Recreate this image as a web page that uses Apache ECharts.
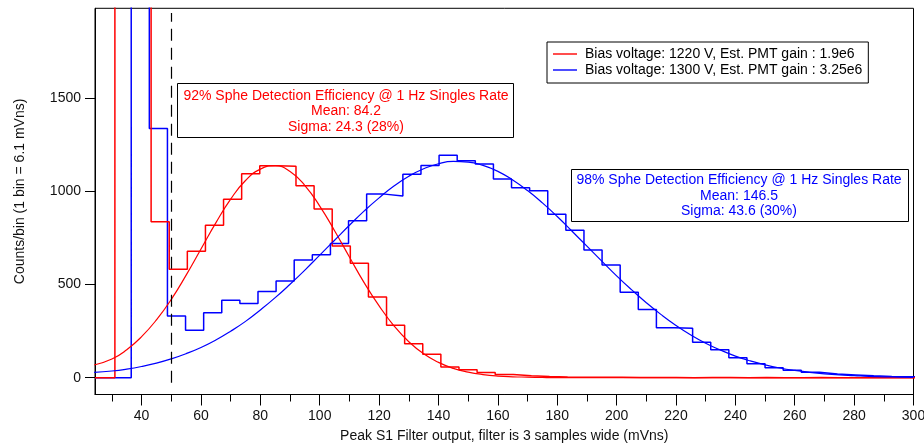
<!DOCTYPE html>
<html>
<head>
<meta charset="utf-8">
<script src="https://cdn.jsdelivr.net/npm/echarts@6/dist/echarts.min.js"></script>
<style>
html,body{margin:0;padding:0;background:#fff;}
#chart{width:924px;height:447px;}
</style>
</head>
<body>
<div id="chart"></div>
<script>
// ---------------- data ----------------
const redName = 'Bias voltage: 1220 V, Est. PMT gain : 1.9e6';
const blueName = 'Bias voltage: 1300 V, Est. PMT gain : 3.25e6';

const binWidth = 6.1;          // mVns per bin
const redBinStart = 31.0;      // left edge of first red bin
const blueBinStart = 30.4;     // left edge of first blue bin

// counts per bin (first bins run off the top of the plot)
const redCounts = [3000, 3000, 836, 581, 678, 817, 956, 1093, 1136, 1134,
  1029, 904, 706, 613, 432, 281, 182, 126, 57, 42,
  28, 17, 10, 6, 4, 3, 2, 2, 1, 1,
  1, 0, 1, 1, 0, 1, 0, 0, 1, 0,
  0, 1, 0, 0, 0];
const blueCounts = [0, 3000, 1336, 331, 254, 348, 415, 398, 462, 518,
  631, 659, 720, 841, 984, 974, 1090, 1138, 1192, 1163,
  1145, 1065, 1018, 1002, 876, 790, 684, 604, 458, 366,
  268, 265, 190, 150, 107, 75, 54, 40, 29, 20,
  15, 10, 7, 5, 4];

// Gaussian fit curves
const fitX = [24, 30, 35, 40, 45, 50, 55, 60, 65, 70, 75, 80, 85, 90, 95, 100,
  105, 110, 115, 120, 125, 130, 135, 140, 145, 150, 155, 160, 165, 170, 175, 180,
  185, 190, 195, 200, 205, 210, 215, 220, 225, 230, 235, 240, 245, 250, 255, 260,
  265, 270, 275, 280, 285, 290, 295, 300];
const redFit = [68, 100, 150, 220, 310, 420, 550, 690, 830, 957, 1057, 1118, 1136, 1105, 1030, 920,
  788, 647, 508, 385, 278, 193, 128, 82, 50, 30, 17, 9, 5, 3, 1, 0,
  0, 0, 0, 0, 0, 0, 0, 0, 0, 0, 0, 0, 0, 0, 0, 0,
  0, 0, 0, 0, 0, 0, 0, 0];
const blueFit = [29, 36, 46, 60, 78, 101, 129, 162, 202, 249, 302, 363, 429, 501, 577, 657,
  737, 817, 894, 964, 1027, 1080, 1120, 1147, 1159, 1156, 1138, 1106, 1060, 1003, 937, 864,
  785, 705, 625, 546, 472, 402, 338, 280, 229, 185, 148, 116, 90, 69, 52, 39,
  29, 21, 15, 11, 7, 5, 3, 2];

const xMajorTicks = [40, 60, 80, 100, 120, 140, 160, 180, 200, 220, 240, 260, 280, 300];
const xMinorTicks = [30, 50, 70, 90, 110, 130, 150, 170, 190, 210, 230, 250, 270, 290];
const yTicks = [0, 500, 1000, 1500];

const thresholdX = 50;
const thresholdSpan = [-27, 1955];

const redBoxText = ['92% Sphe Detection Efficiency @ 1 Hz Singles Rate', 'Mean: 84.2', 'Sigma: 24.3 (28%)'];
const blueBoxText = ['98% Sphe Detection Efficiency @ 1 Hz Singles Rate', 'Mean: 146.5', 'Sigma: 43.6 (30%)'];

// ---------------- chart ----------------
const xMin = 24.3, xMax = 300, yMin = -90, yMax = 1980;
const FONT = "'Liberation Sans', Arial, Helvetica, sans-serif";
const RED = '#ff0000', BLUE = '#0000ff';

function stepData(start, counts) {
  const pts = [[xMin, 0]];
  counts.forEach((c, k) => pts.push([start + k * binWidth, c]));
  pts.push([start + counts.length * binWidth, counts[counts.length - 1]]);
  return pts;
}
function pairs(xs, ys) { return xs.map((x, i) => [x, ys[i]]); }

const chart = echarts.init(document.getElementById('chart'), null, {renderer: 'canvas'});
chart.setOption({
  animation: false,
  backgroundColor: '#fff',
  textStyle: {fontFamily: FONT},
  grid: {
    left: 95, right: 10.5, top: 8.3, bottom: 52.5,
    containLabel: false, outerBoundsMode: 'none',
    show: true, borderColor: '#000', borderWidth: 1
  },
  legend: {
    data: [redName, blueName],
    orient: 'vertical', left: 547, top: 42,
    icon: 'rect', itemWidth: 24, itemHeight: 1.4, itemGap: 2,
    padding: [5, 6, 6, 6],
    borderColor: '#000', borderWidth: 1, backgroundColor: '#fff',
    selectedMode: false,
    textStyle: {fontFamily: FONT, fontSize: 14, color: '#000', lineHeight: 14, padding: [0, 0, 0, 3]}
  },
  xAxis: [{
    type: 'value', min: xMin, max: xMax, position: 'bottom',
    name: 'Peak S1 Filter output, filter is 3 samples wide (mVns)',
    nameLocation: 'middle', nameGap: 35,
    nameTextStyle: {fontFamily: FONT, fontSize: 14, color: '#111'},
    axisLine: {onZero: false, lineStyle: {color: '#000', width: 1}},
    axisTick: {customValues: xMajorTicks, length: 11, lineStyle: {color: '#000'}},
    axisLabel: {customValues: xMajorTicks, margin: 15, fontFamily: FONT, fontSize: 14, color: '#111',
      formatter: v => String(v)},
    splitLine: {show: false}
  }, {
    type: 'value', min: xMin, max: xMax, position: 'bottom', offset: 0,
    axisLine: {show: false, onZero: false},
    axisTick: {customValues: xMinorTicks, length: 7, lineStyle: {color: '#000'}},
    axisLabel: {show: false},
    splitLine: {show: false}
  }],
  yAxis: {
    type: 'value', min: yMin, max: yMax,
    name: 'Counts/bin (1 bin = 6.1 mVns)',
    nameLocation: 'middle', nameGap: 68, nameRotate: 90,
    nameTextStyle: {fontFamily: FONT, fontSize: 14, color: '#111', padding: [0, 0, 0, 20]},
    axisLine: {show: true, onZero: false, lineStyle: {color: '#000', width: 1}},
    axisTick: {show: true, customValues: yTicks, length: 10, lineStyle: {color: '#000'}},
    axisLabel: {customValues: yTicks, margin: 14, fontFamily: FONT, fontSize: 14, color: '#111',
      formatter: v => String(v)},
    splitLine: {show: false}
  },
  series: [{
    name: redName, type: 'line', step: 'end', symbol: 'none', clip: true,
    data: stepData(redBinStart, redCounts),
    lineStyle: {color: RED, width: 1.5}, itemStyle: {color: RED}, z: 3,
    markLine: {
      silent: true, symbol: ['none', 'none'], label: {show: false},
      lineStyle: {color: '#000', type: [12, 7], width: 1.2},
      data: [[{coord: [thresholdX, thresholdSpan[0]]}, {coord: [thresholdX, thresholdSpan[1]]}]]
    }
  }, {
    name: blueName, type: 'line', step: 'end', symbol: 'none', clip: true,
    data: stepData(blueBinStart, blueCounts),
    lineStyle: {color: BLUE, width: 1.5}, itemStyle: {color: BLUE}, z: 2
  }, {
    name: 'Red fit', type: 'line', smooth: 0.5, symbol: 'none', clip: true,
    data: pairs(fitX, redFit), lineStyle: {color: RED, width: 1.2}, z: 4
  }, {
    name: 'Blue fit', type: 'line', smooth: 0.5, symbol: 'none', clip: true,
    data: pairs(fitX, blueFit), lineStyle: {color: BLUE, width: 1.2}, z: 4
  }],
  graphic: [{
    type: 'group', z: 100,
    children: [{
      type: 'rect', shape: {x: 177.5, y: 83.5, width: 336, height: 54},
      style: {fill: '#fff', stroke: '#000', lineWidth: 1}
    }, {
      type: 'text', x: 346, y: 111.5,
      style: {text: redBoxText.join('\n'), fill: RED, font: '14px ' + FONT,
        align: 'center', verticalAlign: 'middle', lineHeight: 15.5}
    }]
  }, {
    type: 'group', z: 100,
    children: [{
      type: 'rect', shape: {x: 571.5, y: 169.5, width: 337, height: 52},
      style: {fill: '#fff', stroke: '#000', lineWidth: 1}
    }, {
      type: 'text', x: 739, y: 196,
      style: {text: blueBoxText.join('\n'), fill: BLUE, font: '14px ' + FONT,
        align: 'center', verticalAlign: 'middle', lineHeight: 15.5}
    }]
  }]
});
</script>
</body>
</html>
